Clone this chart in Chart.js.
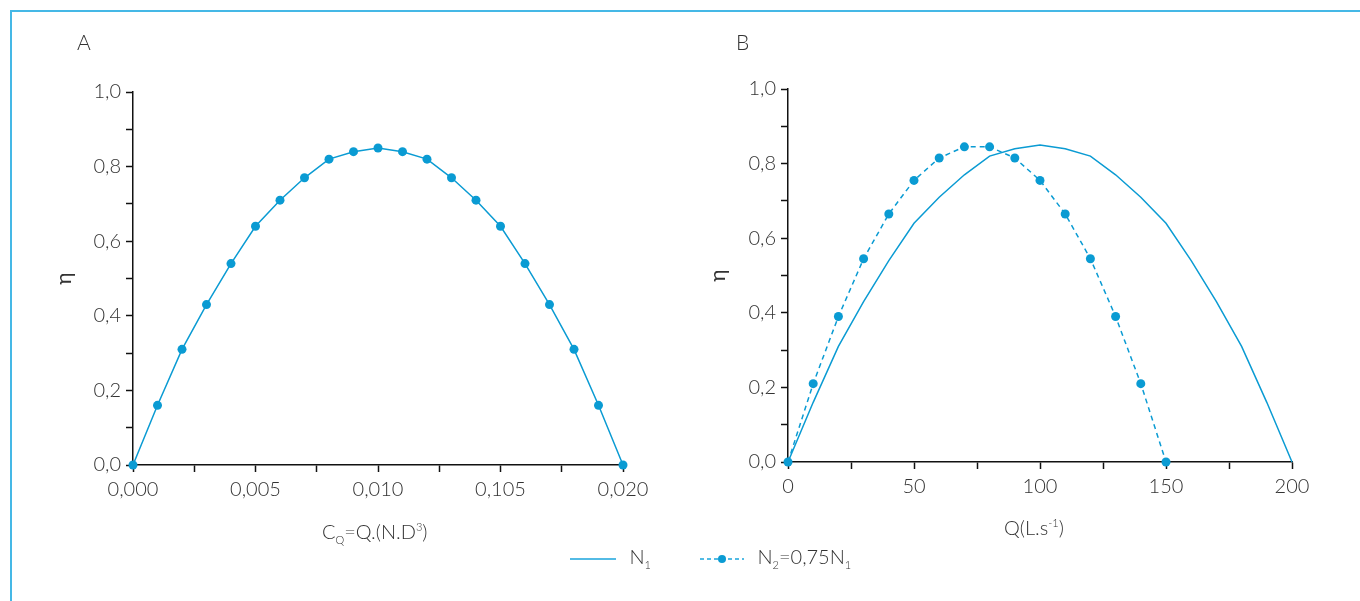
<!DOCTYPE html>
<html>
<head>
<meta charset="utf-8">
<script src="https://cdn.jsdelivr.net/npm/chart.js@4"></script>
<style>
  html, body { margin: 0; padding: 0; background: #fff; }
  body { width: 1360px; height: 601px; position: relative; overflow: hidden;
         font-family: Lato, "Open Sans", sans-serif; font-weight: 300; color: #333; }
  .frame { position: absolute; left: 10px; top: 10px; width: 1400px; height: 700px;
           border-left: 2px solid #45b8e6; border-top: 2px solid #45b8e6; }
  .box { position: absolute; }
  .txt { position: absolute; font-size: 20px; white-space: nowrap; }
  .txt sub, .txt sup { font-size: 11px; }
  .panel { position: absolute; font-size: 21px; }
</style>
</head>
<body>
<div class="frame"></div>
<div class="box" style="left:0;top:0;width:680px;height:560px"><canvas id="chartA"></canvas></div>
<div class="box" style="left:660px;top:0;width:700px;height:560px"><canvas id="chartB"></canvas></div>
<div class="panel" style="left:77px;top:29px">A</div>
<div class="panel" style="left:736px;top:29px">B</div>
<div class="txt" style="left:322px;top:519px">C<sub>Q</sub>=Q.(N.D<sup>3</sup>)</div>
<div class="txt" style="left:1004px;top:515px">Q(L.s<sup>-1</sup>)</div>
<div class="txt" style="left:570px;top:544px">
  <svg width="46" height="10" style="vertical-align:middle"><line x1="0" y1="5" x2="46" y2="5" stroke="#1aa5dc" stroke-width="1.5"/></svg>
  <span style="margin-left:8px">N<sub>1</sub></span>
</div>
<div class="txt" style="left:700px;top:544px">
  <svg width="44" height="10" style="vertical-align:middle"><line x1="0" y1="5" x2="44" y2="5" stroke="#1aa5dc" stroke-width="1.5" stroke-dasharray="4,3"/><circle cx="22" cy="5" r="4" fill="#0a9bd3"/></svg>
  <span style="margin-left:8px">N<sub>2</sub>=0,75N<sub>1</sub></span>
</div>
<script>
// panel A: dimensionless flow coefficient vs efficiency
const cqA = [0, 0.001, 0.002, 0.003, 0.004, 0.005, 0.006, 0.007, 0.008, 0.009, 0.010,
             0.011, 0.012, 0.013, 0.014, 0.015, 0.016, 0.017, 0.018, 0.019, 0.020];
const etaA = [0, 0.16, 0.31, 0.43, 0.54, 0.64, 0.71, 0.77, 0.82, 0.84, 0.85,
              0.84, 0.82, 0.77, 0.71, 0.64, 0.54, 0.43, 0.31, 0.16, 0];

// panel B: flow vs efficiency at two speeds
const qN1 = [0, 10, 20, 30, 40, 50, 60, 70, 80, 90, 100,
             110, 120, 130, 140, 150, 160, 170, 180, 190, 200];
const etaN1 = [0, 0.16, 0.31, 0.43, 0.54, 0.64, 0.71, 0.77, 0.82, 0.84, 0.85,
               0.84, 0.82, 0.77, 0.71, 0.64, 0.54, 0.43, 0.31, 0.16, 0];
const qN2 = [0, 10, 20, 30, 40, 50, 60, 70, 80, 90, 100, 110, 120, 130, 140, 150];
const etaN2 = [0, 0.21, 0.39, 0.545, 0.665, 0.755, 0.815, 0.845, 0.845, 0.815,
               0.755, 0.665, 0.545, 0.39, 0.21, 0];

const yLabels = ['0,0', '0,2', '0,4', '0,6', '0,8', '1,0'];
const xLabelsA = ['0,000', '0,005', '0,010', '0,105', '0,020'];
const xLabelsB = ['0', '50', '100', '150', '200'];

const blue = '#0a9bd3';
const ink = '#333';
const tickFont = { family: 'Lato, "Open Sans", sans-serif', size: 20, weight: 300 };

function pts(xs, ys) {
    return xs.map((x, i) => ({ x: x, y: ys[i] }));
}

function axes(xMax, xStep, xLabels, yWidth) {
    return {
        x: {
            type: 'linear', min: 0, max: xMax,
            border: { color: '#111', width: 1.5 },
            grid: { drawOnChartArea: false, tickLength: 7, tickColor: '#111', tickWidth: 1.5 },
            ticks: {
                stepSize: xStep, color: ink, font: tickFont, padding: 6, maxRotation: 0,
                callback: (v, i) => i % 2 === 0 ? xLabels[i / 2] : ''
            },
            afterFit: s => { s.height = 95; }
        },
        y: {
            min: 0, max: 1,
            border: { color: '#111', width: 1.5 },
            grid: { drawOnChartArea: false, tickLength: 7, tickColor: '#111', tickWidth: 1.5 },
            title: { display: true, text: 'η', color: ink, font: { family: tickFont.family, size: 21 }, padding: 0 },
            ticks: {
                stepSize: 0.1, color: ink, font: tickFont, padding: 5,
                callback: (v, i) => i % 2 === 0 ? yLabels[i / 2] : ''
            },
            afterFit: s => { s.width = yWidth; }
        }
    };
}

const common = {
    responsive: true,
    maintainAspectRatio: false,
    animation: false,
    plugins: { legend: { display: false }, tooltip: { enabled: false } }
};

new Chart(document.getElementById('chartA'), {
    type: 'line',
    data: {
        datasets: [{
            data: pts(cqA, etaA),
            borderColor: blue, backgroundColor: blue, borderWidth: 1.5,
            pointRadius: 4.5, pointBorderWidth: 0, tension: 0, clip: false
        }]
    },
    options: Object.assign({}, common, {
        layout: { padding: { left: 52, right: 57, top: 92, bottom: 0 } },
        scales: axes(0.02, 0.0025, xLabelsA, 81)
    })
});

new Chart(document.getElementById('chartB'), {
    type: 'line',
    data: {
        datasets: [
            {
                label: 'N1',
                data: pts(qN1, etaN1),
                borderColor: blue, borderWidth: 1.5,
                pointRadius: 0, tension: 0, clip: false
            },
            {
                label: 'N2=0,75N1',
                data: pts(qN2, etaN2),
                borderColor: blue, backgroundColor: blue, borderWidth: 1.5,
                borderDash: [5, 4],
                pointRadius: 4.5, pointBorderWidth: 0, tension: 0, clip: false
            }
        ]
    },
    options: Object.assign({}, common, {
        layout: { padding: { left: 46, right: 68, top: 89, bottom: 3 } },
        scales: axes(200, 25, xLabelsB, 82)
    })
});
</script>
</body>
</html>
